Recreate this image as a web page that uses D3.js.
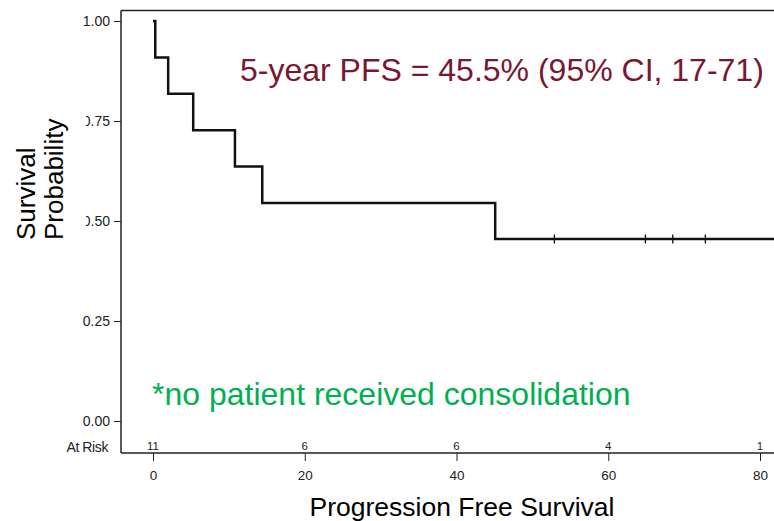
<!DOCTYPE html>
<html>
<head>
<meta charset="utf-8">
<script src="https://cdn.jsdelivr.net/npm/d3@7"></script>
<style>
  body { margin: 0; background: #fff; }
  svg { display: block; font-family: "Liberation Sans", Arial, sans-serif; }
</style>
</head>
<body>
<svg id="chart" width="774" height="521"></svg>
<script>
// step times (months) and survival after each step
var stepTimes = [0, 0.3, 2.0, 5.3, 10.8, 14.4, 45.1]
var stepSurv = [1.0, 0.909, 0.818, 0.727, 0.636, 0.545, 0.455]
var censorTimes = [52.9, 64.9, 68.5, 72.8]
var lastFollowUp = 86

var xTicks = [0, 20, 40, 60, 80]
var yTicks = [0, 0.25, 0.5, 0.75, 1.0]
var atRiskTimes = [0, 20, 40, 60, 80]
var atRiskCounts = [11, 6, 6, 4, 1]

var svg = d3.select('#chart')

var frameLeft = 121, frameTop = 10.5, frameBottom = 453, frameRight = 774

var x = d3.scaleLinear().domain([0, 80]).range([153, 760])
var y = d3.scaleLinear().domain([0, 1]).range([421, 21])

svg.append('clipPath').attr('id', 'plotClip')
    .append('rect')
    .attr('x', frameLeft).attr('y', frameTop)
    .attr('width', frameRight - frameLeft).attr('height', frameBottom - frameTop)

// y axis
var yAxis = svg.append('g')
    .attr('transform', 'translate(' + frameLeft + ',0)')
    .call(d3.axisLeft(y).tickValues(yTicks).tickFormat(d3.format('.2f')).tickSize(7).tickPadding(4))
yAxis.select('.domain').remove()
yAxis.selectAll('line').attr('stroke', '#222')
yAxis.selectAll('text').style('font-size', '14px').attr('fill', '#222')

// x axis
var xAxis = svg.append('g')
    .attr('transform', 'translate(0,' + frameBottom + ')')
    .call(d3.axisBottom(x).tickValues(xTicks).tickFormat(d3.format('d')).tickSize(8).tickPadding(9))
xAxis.select('.domain').remove()
xAxis.selectAll('line').attr('stroke', '#222')
xAxis.selectAll('text').style('font-size', '13.5px').attr('fill', '#222')

// frame
var frame = svg.append('g').attr('stroke', '#222').attr('stroke-width', 1.5).attr('fill', 'none')
frame.append('line').attr('x1', frameLeft).attr('x2', frameLeft).attr('y1', frameTop).attr('y2', frameBottom)
frame.append('line').attr('x1', frameLeft).attr('x2', frameRight).attr('y1', frameTop).attr('y2', frameTop)
frame.append('line').attr('x1', frameLeft).attr('x2', frameRight).attr('y1', frameBottom).attr('y2', frameBottom)

// KM step curve
var pts = stepTimes.map(function (t, i) { return [t, stepSurv[i]] })
pts.push([lastFollowUp, stepSurv[stepSurv.length - 1]])
var plot = svg.append('g').attr('clip-path', 'url(#plotClip)')
plot.append('path')
    .datum(pts)
    .attr('d', d3.line().x(function (d) { return x(d[0]) }).y(function (d) { return y(d[1]) }).curve(d3.curveStepAfter))
    .attr('fill', 'none')
    .attr('stroke', '#111')
    .attr('stroke-width', 2.5)

function survAt(t) {
    var s = stepSurv[0]
    stepTimes.forEach(function (st, i) { if (st <= t) s = stepSurv[i] })
    return s
}
plot.selectAll('.censor')
    .data(censorTimes)
    .enter()
    .append('line')
    .attr('x1', function (d) { return x(d) })
    .attr('x2', function (d) { return x(d) })
    .attr('y1', function (d) { return y(survAt(d)) - 4.5 })
    .attr('y2', function (d) { return y(survAt(d)) + 4.5 })
    .attr('stroke', '#111')
    .attr('stroke-width', 1.3)

// at risk row
svg.append('text')
    .attr('x', 108).attr('y', 452)
    .attr('text-anchor', 'end')
    .style('font-size', '14px')
    .style('letter-spacing', '-0.4px')
    .attr('fill', '#222')
    .text('At Risk')
svg.selectAll('.atrisk')
    .data(atRiskCounts)
    .enter()
    .append('text')
    .attr('x', function (d, i) { return x(atRiskTimes[i]) })
    .attr('y', 450)
    .attr('text-anchor', 'middle')
    .style('font-size', '11.5px')
    .attr('fill', '#222')
    .text(function (d) { return d })

// y title box covers the left part of the middle tick labels
svg.append('rect').attr('x', 0).attr('y', 95).attr('width', 86).attr('height', 150).attr('fill', '#fff')
var yTitle = svg.append('text')
    .attr('transform', 'translate(0,240) rotate(-90)')
    .style('font-size', '26px')
    .attr('fill', '#000')
yTitle.append('tspan').attr('x', 0).attr('y', 35).text('Survival')
yTitle.append('tspan').attr('x', 0).attr('y', 63).text('Probability')

svg.append('text')
    .attr('x', 462).attr('y', 516)
    .attr('text-anchor', 'middle')
    .style('font-size', '26.5px')
    .attr('fill', '#000')
    .text('Progression Free Survival')

svg.append('text')
    .attr('x', 240).attr('y', 81)
    .style('font-size', '32px')
    .attr('fill', '#7a1632')
    .text('5-year PFS = 45.5% (95% CI, 17-71)')

svg.append('text')
    .attr('x', 152).attr('y', 405)
    .style('font-size', '32px')
    .attr('fill', '#00b050')
    .text('*no patient received consolidation')
</script>
</body>
</html>
